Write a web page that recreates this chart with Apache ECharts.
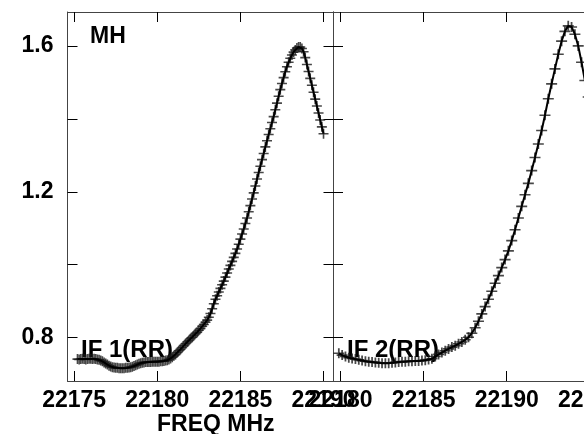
<!DOCTYPE html>
<html>
<head>
<meta charset="utf-8">
<script src="https://cdn.jsdelivr.net/npm/echarts@6/dist/echarts.min.js"></script>
<style>
html,body{margin:0;padding:0;background:#fff;}
#c{width:584px;height:434px;}
</style>
</head>
<body>
<div id="c"></div>
<script>
// ---- data ----
const LEFT_F0 = 22175.2, LEFT_DF = 0.1;   // IF 1 channel frequencies (MHz)
const leftValues = [
0.741,0.740,0.741,0.742,0.741,0.740,0.741,0.742,0.742,0.741,
0.742,0.741,0.740,0.739,0.737,0.735,0.732,0.729,0.726,0.723,
0.721,0.719,0.718,0.717,0.717,0.716,0.716,0.716,0.716,0.717,
0.717,0.718,0.719,0.720,0.722,0.724,0.726,0.728,0.730,0.731,
0.732,0.733,0.733,0.733,0.733,0.734,0.734,0.734,0.734,0.734,
0.735,0.735,0.736,0.737,0.738,0.740,0.743,0.746,0.750,0.754,
0.759,0.764,0.768,0.773,0.778,0.783,0.788,0.792,0.797,0.801,
0.806,0.811,0.815,0.820,0.825,0.831,0.836,0.842,0.848,0.856,
0.866,0.879,0.893,0.905,0.915,0.925,0.935,0.945,0.955,0.966,
0.977,0.988,0.998,1.009,1.020,1.031,1.043,1.056,1.070,1.084,
1.098,1.113,1.128,1.145,1.162,1.180,1.197,1.216,1.235,1.253,
1.270,1.288,1.305,1.323,1.340,1.357,1.373,1.390,1.406,1.425,
1.443,1.462,1.480,1.497,1.513,1.529,1.543,1.555,1.566,1.575,
1.583,1.589,1.594,1.597,1.597,1.593,1.584,1.568,1.549,1.530,
1.511,1.492,1.473,1.454,1.435,1.416,1.397,1.378,1.359
];
const RIGHT_F0 = 22179.9, RIGHT_DF = 0.2;  // IF 2 channel frequencies (MHz)
const rightValues = [
0.757,0.752,0.748,0.745,0.743,0.741,0.739,0.737,0.735,0.734,
0.733,0.732,0.731,0.730,0.730,0.730,0.731,0.732,0.733,0.734,
0.734,0.735,0.735,0.736,0.736,0.737,0.738,0.740,0.742,0.748,
0.754,0.759,0.764,0.769,0.774,0.778,0.783,0.788,0.794,0.801,
0.812,0.827,0.845,0.865,0.885,0.905,0.927,0.949,0.970,0.992,
1.014,1.038,1.066,1.096,1.128,1.160,1.192,1.223,1.258,1.294,
1.331,1.368,1.410,1.455,1.496,1.537,1.577,1.613,1.640,1.655,
1.652,1.632,1.600,1.555,1.505,1.460,1.420
];
const leftXTicks = [22175, 22180, 22185, 22190];
const rightXTicks = [22180, 22185, 22190, 22195];
const yTicks = [0.8, 1.0, 1.2, 1.4, 1.6];
const yTickLabels = [0.8, 1.2, 1.6];
const panelLabels = ['IF 1(RR)', 'IF 2(RR)'];
const sourceLabel = 'MH';
const xTitle = 'FREQ MHz';

const leftData = leftValues.map((v, i) => [+(LEFT_F0 + i * LEFT_DF).toFixed(3), v]);
const rightData = rightValues.map((v, i) => [+(RIGHT_F0 + i * RIGHT_DF).toFixed(3), v]);

// ---- chart ----
const FONT = '"Liberation Sans", Arial, sans-serif';
const lineCol = '#444';
const plus = 'path://M0,4.2H10V5.8H0Z M4.2,0H5.8V10H4.2Z';

function xAxis(grid, min, max, ticks, pos, labels) {
  return {
    type: 'value', gridIndex: grid, position: pos, min: min, max: max,
    axisLine: {show: true, onZero: false, lineStyle: {color: lineCol, width: 1}},
    axisTick: {show: true, inside: true, length: 10, customValues: ticks, lineStyle: {color: '#000', width: 1}},
    axisLabel: {show: labels, customValues: ticks, margin: 8, color: '#000',
      fontFamily: FONT, fontWeight: 'bold', fontSize: 23, formatter: v => String(v)},
    splitLine: {show: false}
  };
}
function yAxis(grid, pos, labels) {
  return {
    type: 'value', gridIndex: grid, position: pos, min: 0.681, max: 1.693,
    axisLine: {show: true, onZero: false, lineStyle: {color: lineCol, width: 1}},
    axisTick: {show: true, inside: true, length: 10, customValues: yTicks, lineStyle: {color: '#000', width: 1}},
    axisLabel: {show: labels, customValues: yTickLabels, margin: 14, color: '#000',
      fontFamily: FONT, fontWeight: 'bold', fontSize: 23, formatter: v => v.toFixed(1)},
    splitLine: {show: false}
  };
}

const chart = echarts.init(document.getElementById('c'), null, {renderer: 'canvas'});
chart.setOption({
  animation: false,
  backgroundColor: '#fff',
  grid: [
    {left: 67.5, top: 12, width: 266, height: 369, outerBoundsMode: 'none', containLabel: false},
    {left: 333, top: 12, width: 266, height: 369, outerBoundsMode: 'none', containLabel: false}
  ],
  xAxis: [
    xAxis(0, 22174.6, 22190.6, leftXTicks, 'bottom', true),
    xAxis(0, 22174.6, 22190.6, leftXTicks, 'top', false),
    xAxis(1, 22179.55, 22195.55, rightXTicks, 'bottom', true),
    xAxis(1, 22179.55, 22195.55, rightXTicks, 'top', false)
  ],
  yAxis: [
    yAxis(0, 'left', true),
    yAxis(0, 'right', false),
    yAxis(1, 'left', false),
    yAxis(1, 'right', false)
  ],
  series: [
    {type: 'line', xAxisIndex: 0, yAxisIndex: 0, data: leftData, showSymbol: false,
      lineStyle: {color: '#000', width: 2}, z: 3, silent: true},
    {type: 'scatter', xAxisIndex: 0, yAxisIndex: 0, data: leftData, symbol: plus,
      symbolSize: [10, 10], itemStyle: {color: '#1a1a1a'}, z: 2, silent: true},
    {type: 'line', xAxisIndex: 2, yAxisIndex: 2, data: rightData, showSymbol: false,
      lineStyle: {color: '#000', width: 2}, z: 3, silent: true},
    {type: 'scatter', xAxisIndex: 2, yAxisIndex: 2, data: rightData, symbol: plus,
      symbolSize: [11, 10], itemStyle: {color: '#1a1a1a'}, z: 2, silent: true}
  ],
  graphic: [
    {type: 'text', left: 90, top: 25, z: 1, style: {text: sourceLabel, fill: '#000',
      font: 'bold 23px ' + FONT}},
    {type: 'text', left: 81, top: 338, z: 1, style: {text: panelLabels[0], fill: '#000',
      font: 'bold 24px ' + FONT}},
    {type: 'text', left: 347, top: 338, z: 1, style: {text: panelLabels[1], fill: '#000',
      font: 'bold 24px ' + FONT}},
    {type: 'text', left: 157, top: 413, z: 1, style: {text: xTitle, fill: '#000',
      font: 'bold 23px ' + FONT}}
  ]
});
</script>
</body>
</html>
